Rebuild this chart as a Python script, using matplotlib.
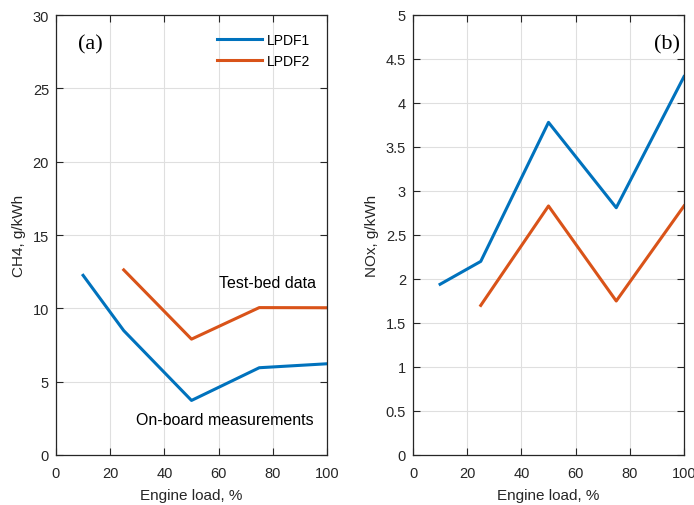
import matplotlib
matplotlib.use("Agg")
import matplotlib.pyplot as plt

# engine load, %
load_ch4_1 = [10, 25, 50, 75, 100]
ch4_lpdf1 = [12.25, 8.48, 3.72, 5.95, 6.22]
load_ch4_2 = [25, 50, 75, 100]
ch4_lpdf2 = [12.62, 7.9, 10.05, 10.04]

load_nox_1 = [10, 25, 50, 75, 100]
nox_lpdf1 = [1.94, 2.2, 3.78, 2.81, 4.3]
load_nox_2 = [25, 50, 75, 100]
nox_lpdf2 = [1.7, 2.83, 1.75, 2.83]

series_names = ["LPDF1", "LPDF2"]
blue = "#0072BD"
orange = "#D95319"
dark = "#262626"

plt.rcParams["font.family"] = ["Liberation Sans", "DejaVu Sans"]
plt.rcParams["font.size"] = 10

fig = plt.figure(figsize=(6.94, 5.06), dpi=100)
W, H = 694, 506
ax1 = fig.add_axes([56 / W, 1 - 456 / H, 271 / W, 440 / H])
ax2 = fig.add_axes([413 / W, 1 - 456 / H, 271 / W, 440 / H])


def style(ax, ymax, ystep, ylabel):
    ax.set_xlim(0, 100)
    ax.set_ylim(0, ymax)
    ax.set_xticks(range(0, 101, 20))
    n = int(round(ymax / ystep))
    yt = [i * ystep for i in range(n + 1)]
    ax.set_yticks(yt)
    ax.set_yticklabels([f"{v:g}" for v in yt])
    ax.grid(True, color="#dfdfdf", linewidth=0.8)
    ax.set_axisbelow(True)
    ax.tick_params(direction="in", top=True, right=True, colors=dark,
                   labelcolor=dark, labelsize=10.5, length=5, width=0.8)
    ax.tick_params(axis="x", pad=8)
    ax.tick_params(axis="y", pad=5)
    for sp in ax.spines.values():
        sp.set_color(dark)
        sp.set_linewidth(0.9)
    ax.set_xlabel("Engine load, %", color=dark, fontsize=11, labelpad=6)
    ax.set_ylabel(ylabel, color=dark, fontsize=11, labelpad=5)


ax1.plot(load_ch4_1, ch4_lpdf1, color=blue, lw=2.2, label=series_names[0])
ax1.plot(load_ch4_2, ch4_lpdf2, color=orange, lw=2.2, label=series_names[1])
style(ax1, 30, 5, "CH4, g/kWh")
ax1.legend(loc="upper right", frameon=False, fontsize=10, handlelength=3.2,
           handletextpad=0.4, labelspacing=0.5, borderaxespad=0.3,
           bbox_to_anchor=(0.975, 0.982))
ax1.text(0.08, 0.935, "(a)", transform=ax1.transAxes, fontsize=16,
         family=["Liberation Serif", "DejaVu Serif"], va="center", ha="left")
ax1.text(0.96, 0.393, "Test-bed data", transform=ax1.transAxes, fontsize=11.5,
         ha="right", va="center", color="black")
ax1.text(0.95, 0.081, "On-board measurements", transform=ax1.transAxes,
         fontsize=11.5, ha="right", va="center", color="black")

ax2.plot(load_nox_1, nox_lpdf1, color=blue, lw=2.2)
ax2.plot(load_nox_2, nox_lpdf2, color=orange, lw=2.2)
style(ax2, 5, 0.5, "NOx, g/kWh")
ax2.text(0.985, 0.935, "(b)", transform=ax2.transAxes, fontsize=16,
         family=["Liberation Serif", "DejaVu Serif"], va="center", ha="right")

fig.savefig("out.png", dpi=100)
